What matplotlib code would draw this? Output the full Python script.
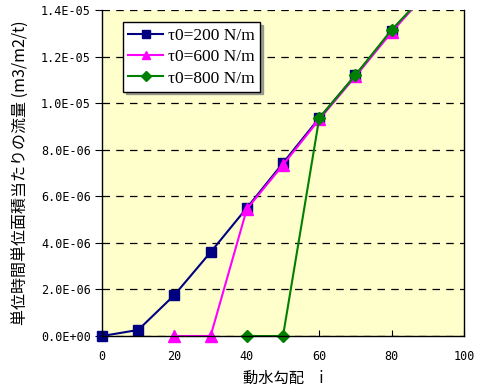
import matplotlib.pyplot as plt
from matplotlib.patches import Rectangle
from matplotlib.ticker import FuncFormatter, MultipleLocator

# 動水勾配 i と単位時間単位面積当たりの流量
x_200 = [0, 10, 20, 30, 40, 50, 60, 70, 80, 90]
q_200 = [0.0, 0.26e-6, 1.76e-6, 3.6e-6, 5.5e-6, 7.43e-6, 9.36e-6, 11.2e-6, 13.1e-6, 14.8e-6]

x_600 = [20, 30, 40, 50, 60, 70, 80, 90]
q_600 = [0.0, 0.0, 5.45e-6, 7.35e-6, 9.3e-6, 11.15e-6, 13.05e-6, 14.8e-6]

x_800 = [40, 50, 60, 70, 80, 90]
q_800 = [0.0, 0.0, 9.35e-6, 11.2e-6, 13.15e-6, 14.8e-6]

labels = ["τ0=200 N/m", "τ0=600 N/m", "τ0=800 N/m"]

plt.rcParams['font.family'] = ['DejaVu Sans', 'Noto Sans CJK JP']

fig = plt.figure(figsize=(4.82, 3.89), dpi=100)
ax = fig.add_axes([0.2116, 0.1362, 0.7511, 0.8380])
ax.set_facecolor("#FFFFCC")

lines = [
    ax.plot(x_200, q_200, color="#000080", lw=1.5, marker="s", ms=7, label=labels[0])[0],
    ax.plot(x_600, q_600, color="#FF00FF", lw=1.5, marker="^", ms=8, label=labels[1])[0],
    ax.plot(x_800, q_800, color="#008000", lw=1.5, marker="D", ms=6, label=labels[2])[0],
]
# clip only at the top so the markers on the axes stay whole
clip = Rectangle((-0.1, -0.1), 1.2, 1.1, transform=ax.transAxes, fill=False, visible=False)
ax.add_patch(clip)
for ln in lines:
    ln.set_clip_path(clip)

ax.set_xlim(0, 100)
ax.set_ylim(0, 1.4e-5)
ax.xaxis.set_major_locator(MultipleLocator(20))
ax.yaxis.set_major_locator(MultipleLocator(2e-6))
ax.yaxis.set_major_formatter(FuncFormatter(lambda v, p: f"{v:.1E}"))
ax.yaxis.grid(True, color="black", ls=(0, (6, 5)), lw=0.9)
ax.set_axisbelow(True)

ax.tick_params(axis="x", direction="in", length=4, labelsize=8.5, pad=10)
ax.tick_params(axis="y", direction="out", length=5, labelsize=8.5, pad=3)
for t in ax.get_xticklabels() + ax.get_yticklabels():
    t.set_family(['DejaVu Sans Mono'])

ax.spines["top"].set_visible(False)
for s in ["left", "bottom", "right"]:
    ax.spines[s].set_linewidth(1.0)

ax.set_xlabel("動水勾配　i", family=['Noto Sans CJK JP'], fontsize=11, labelpad=5)
ax.set_ylabel("単位時間単位面積当たりの流量 (m3/m2/t)", family=['Noto Sans CJK JP'], fontsize=11.5, labelpad=8)

leg = ax.legend(loc="upper left", bbox_to_anchor=(0.058, 0.962), borderaxespad=0, fancybox=False,
                framealpha=1, edgecolor="black", prop={"family": "Liberation Serif", "size": 12.5},
                borderpad=0.3, labelspacing=0.3, handlelength=2.0, handletextpad=0.3,
                markerscale=0.8, shadow={"color": "#888888", "alpha": 0.8})
leg.get_frame().set_linewidth(1.0)

fig.savefig("out.png", dpi=100)
